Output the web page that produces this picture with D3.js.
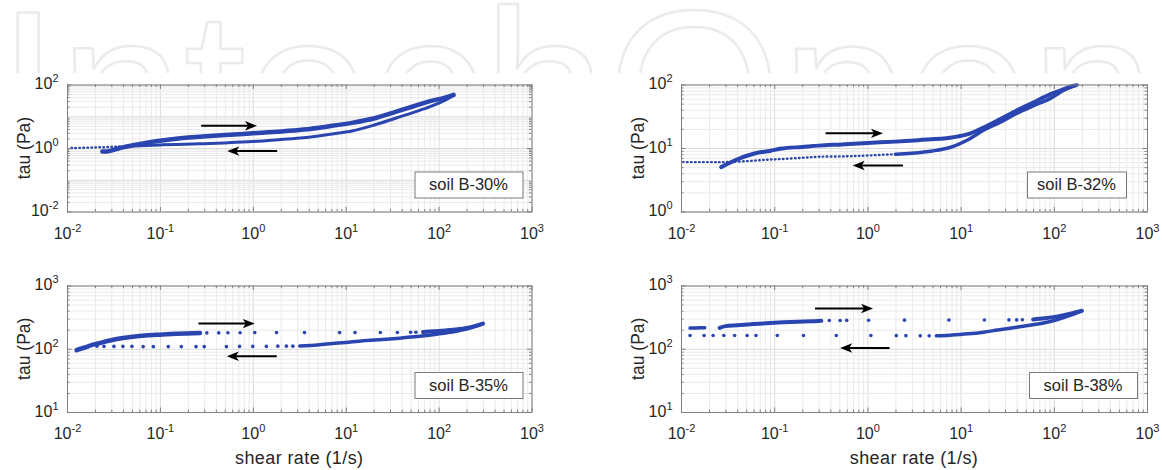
<!DOCTYPE html>
<html>
<head>
<meta charset="utf-8">
<script src="https://cdn.jsdelivr.net/npm/d3@7"></script>
<style>
  body { margin: 0; background: #fff; }
  svg { display: block; font-family: "Liberation Sans", Arial, Helvetica, sans-serif; }
</style>
</head>
<body>
<div id="chart"></div>
<script>
// Tick exponents (labels are 10^e)
const xTickExps = [-2, -1, 0, 1, 2, 3];
const yTickExpsB30 = [-2, 0, 2];
const yTickExpsB32 = [0, 1, 2];
const yTickExpsB35 = [1, 2, 3];
const yTickExpsB38 = [1, 2, 3];
const legendLabels = ['soil B-30%', 'soil B-32%', 'soil B-35%', 'soil B-38%'];

// soil B-30% : shear rate (1/s) / tau (Pa)
const b30UpRate = [0.024, 0.027, 0.032, 0.04, 0.05, 0.07, 0.1, 0.15, 0.27, 0.5, 1, 2, 3.5, 6.8, 12, 20, 35, 55, 81, 115, 145];
const b30UpTau = [0.78, 0.78, 0.88, 1.05, 1.2, 1.45, 1.7, 1.95, 2.25, 2.55, 2.9, 3.3, 3.8, 4.9, 6.3, 8.5, 14, 21, 30, 38, 47];
const b30DownRate = [145, 115, 81, 55, 35, 20, 12, 6.8, 3.5, 2, 1, 0.5, 0.27, 0.15, 0.1, 0.07, 0.05];
const b30DownTau = [45, 31, 20, 13.5, 8.8, 5.2, 3.5, 2.7, 2.1, 1.85, 1.6, 1.45, 1.35, 1.3, 1.25, 1.2, 1.15];
const b30TailRate = [0.05, 0.04, 0.032, 0.027, 0.022, 0.018, 0.015, 0.012, 0.0105];
const b30TailTau = [1.15, 1.12, 1.1, 1.07, 1.05, 1.03, 1.02, 1.0, 1.0];

// soil B-32%
const b32UpRate = [0.027, 0.033, 0.044, 0.055, 0.066, 0.09, 0.12, 0.2, 0.3, 0.54, 1, 2, 3.5, 7.7, 12, 17.6, 26, 40, 60, 91, 130, 176];
const b32UpTau = [5.0, 5.8, 7.0, 7.8, 8.4, 9.0, 9.8, 10.4, 10.9, 11.4, 12, 12.6, 13.3, 14.5, 16.5, 21, 28, 39, 52, 70, 85, 100];
const b32DownRate = [176, 130, 91, 60, 40, 26, 17.6, 12, 7.7, 5, 3, 2];
const b32DownTau = [98, 82, 60, 46, 35, 25, 19, 13.5, 10.2, 9.0, 8.3, 8.0];
const b32TailRate = [2, 1, 0.6, 0.31, 0.2, 0.12, 0.08, 0.05, 0.03, 0.02, 0.0105];
const b32TailTau = [8.0, 7.6, 7.4, 7.3, 7.0, 6.7, 6.5, 6.2, 6.0, 6.0, 6.0];

// soil B-35%
const b35UpRate = [0.0127, 0.014, 0.016, 0.018, 0.022, 0.029, 0.04, 0.051, 0.07, 0.1, 0.15, 0.27];
const b35UpTau = [95, 100, 106, 113, 122, 135, 148, 155, 162, 167, 172, 177];
const b35UpDotRate = [0.32, 0.43, 0.54, 0.73, 1.05, 1.8, 3.6, 8.6, 12.6, 23.6, 36, 50, 57];
const b35UpDotTau = [178, 178, 179, 179, 180, 180, 180, 180, 180, 181, 181, 182, 182];
const b35UpEndRate = [68, 90, 120, 160, 200, 250, 300];
const b35UpEndTau = [184, 189, 195, 203, 213, 230, 250];
const b35DownRate = [300, 250, 200, 150, 102, 70, 38, 25, 15.5, 10, 7.2, 5, 3.2];
const b35DownTau = [250, 226, 205, 188, 172, 160, 147, 140, 134, 126, 121, 115, 111];
const b35DownDotRate = [0.021, 0.025, 0.032, 0.040, 0.050, 0.066, 0.085, 0.123, 0.17, 0.245, 0.30, 0.52, 0.72, 1.0, 1.4, 1.86, 2.3, 2.7];
const b35DownDotTau = [110, 109, 109, 109, 109, 108, 108, 108, 108, 108, 108, 108, 109, 109, 109, 110, 110, 110];

// soil B-38%
const b38UpStartRate = [0.0125, 0.014, 0.016, 0.018];
const b38UpStartTau = [212, 213, 214, 214];
const b38UpRate = [0.026, 0.03, 0.04, 0.06, 0.09, 0.15, 0.25, 0.32];
const b38UpTau = [214, 228, 236, 246, 255, 265, 272, 276];
const b38UpDotRate = [0.39, 0.51, 0.6, 1.03, 2.5, 7.5, 18, 33, 40, 46];
const b38UpDotTau = [279, 280, 281, 282, 283, 284, 285, 286, 286, 287];
const b38UpEndRate = [60, 80, 110, 150, 200];
const b38UpEndTau = [290, 303, 325, 358, 400];
const b38DownRate = [200, 150, 110, 80, 60, 40, 25, 17.6, 12, 7.7, 5.5];
const b38DownTau = [395, 338, 290, 258, 240, 219, 198, 183, 172, 164, 160];
const b38DownDotRate = [0.0125, 0.0177, 0.0221, 0.0288, 0.0376, 0.0512, 0.0638, 0.108, 0.206, 0.464, 1.09, 2.04, 2.59, 3.69, 4.6];
const b38DownDotTau = [162, 162, 162, 162, 162, 162, 162, 162, 162, 162, 162, 161, 161, 160, 160];

// Sweep-direction arrows: [rate from, rate to, tau]
const arrowsB30 = [[0.278, 1.11, 5.0], [1.83, 0.53, 0.80]];
const arrowsB32 = [[0.356, 1.47, 17], [2.41, 0.695, 5.3]];
const arrowsB35 = [[0.26, 1.05, 250], [1.81, 0.525, 76]];
const arrowsB38 = [[0.274, 1.15, 434], [1.73, 0.51, 103]];

// Layout
const blue = '#2a45b0';
const axisColor = '#808080';
const textColor = '#262626';
const majorGrid = '#dadada';
const minorGrid = '#eaeaea';

const panels = [
    { name: legendLabels[0], box: [67, 531.5, 84.5, 211.5], yTicks: yTickExpsB30, arrows: arrowsB30,
      legend: { right: 9, width: 108 }, xLabel: false,
      series: [
          { rate: b30UpRate, tau: b30UpTau, kind: 'band', w: 4.5 },
          { rate: b30DownRate, tau: b30DownTau, kind: 'band', w: 3 },
          { rate: b30TailRate, tau: b30TailTau, kind: 'dash' }
      ] },
    { name: legendLabels[1], box: [681, 1147, 84.5, 211.5], yTicks: yTickExpsB32, arrows: arrowsB32,
      legend: { right: 21, width: 99 }, xLabel: false,
      series: [
          { rate: b32UpRate, tau: b32UpTau, kind: 'band', w: 4 },
          { rate: b32DownRate, tau: b32DownTau, kind: 'band', w: 3.5 },
          { rate: b32TailRate, tau: b32TailTau, kind: 'dash' }
      ] },
    { name: legendLabels[2], box: [67, 531.5, 285.5, 412], yTicks: yTickExpsB35, arrows: arrowsB35,
      legend: { right: 9, width: 108 }, xLabel: true,
      series: [
          { rate: b35UpRate, tau: b35UpTau, kind: 'band', w: 4.5 },
          { rate: b35UpDotRate, tau: b35UpDotTau, kind: 'dots' },
          { rate: b35UpEndRate, tau: b35UpEndTau, kind: 'band', w: 4 },
          { rate: b35DownRate, tau: b35DownTau, kind: 'band', w: 3.5 },
          { rate: b35DownDotRate, tau: b35DownDotTau, kind: 'dots' }
      ] },
    { name: legendLabels[3], box: [681, 1147, 285.5, 412], yTicks: yTickExpsB38, arrows: arrowsB38,
      legend: { right: 10, width: 108 }, xLabel: true,
      series: [
          { rate: b38UpStartRate, tau: b38UpStartTau, kind: 'band', w: 3.5 },
          { rate: b38UpRate, tau: b38UpTau, kind: 'band', w: 4 },
          { rate: b38UpDotRate, tau: b38UpDotTau, kind: 'dots' },
          { rate: b38UpEndRate, tau: b38UpEndTau, kind: 'band', w: 4 },
          { rate: b38DownRate, tau: b38DownTau, kind: 'band', w: 3.5 },
          { rate: b38DownDotRate, tau: b38DownDotTau, kind: 'dots' }
      ] }
];

const svg = d3.select('#chart')
    .append('svg')
    .attr('width', 1162)
    .attr('height', 470);

// Faint publisher watermark along the top edge (cut by the figure)
svg.append('clipPath').attr('id', 'wm-clip')
    .append('rect').attr('x', 0).attr('y', 0).attr('width', 1162).attr('height', 73);
svg.append('g').attr('clip-path', 'url(#wm-clip)')
    .append('text')
    .attr('x', -3).attr('y', 167)
    .attr('font-size', 224)
    .attr('fill', '#fff')
    .attr('stroke', '#ebebeb')
    .attr('stroke-width', 2.5)
    .attr('stroke-linejoin', 'round')
    .text('IntechOpen');

// decades and 2..9 minor values of a log scale
function decades(scale) {
    const [lo, hi] = scale.domain().map(v => Math.round(Math.log10(v)));
    return d3.range(lo, hi + 1).map(e => 10 ** e);
}
function minors(scale) {
    const [lo, hi] = scale.domain().map(v => Math.round(Math.log10(v)));
    const out = [];
    for (let e = lo; e < hi; e++) for (let m = 2; m <= 9; m++) out.push(m * 10 ** e);
    return out;
}

function supLabel() {
    const t = d3.select(this);
    const exp = t.text();
    t.text(null);
    t.append('tspan').text('10');
    t.append('tspan').attr('dy', -7).attr('font-size', 11).text(exp);
}

function plain(sel) {
    sel.attr('font-family', null).attr('font-size', null);
    sel.select('.domain').remove();
    sel.selectAll('.tick line').attr('stroke', axisColor);
}

const expFormat = d => String(Math.round(Math.log10(d)));

panels.forEach((p, i) => {
    const [left, right, top, bottom] = p.box;
    const w = right - left, h = bottom - top;

    const x = d3.scaleLog()
        .domain([10 ** xTickExps[0], 10 ** xTickExps[xTickExps.length - 1]])
        .range([left, right]);
    const yExt = d3.extent(p.yTicks);
    const y = d3.scaleLog()
        .domain([10 ** yExt[0], 10 ** yExt[1]])
        .range([bottom, top]);

    const g = svg.append('g').attr('class', 'panel');

    g.append('rect')
        .attr('x', left).attr('y', top)
        .attr('width', w).attr('height', h)
        .attr('fill', '#fff');

    // Grid lines
    [[minors(x), minorGrid], [decades(x), majorGrid]].forEach(([vals, col]) => {
        g.append('g')
            .attr('transform', `translate(0,${bottom})`)
            .call(d3.axisBottom(x).tickValues(vals).tickSize(-h).tickFormat(''))
            .call(s => s.select('.domain').remove())
            .selectAll('line').attr('stroke', col);
    });
    [[minors(y), minorGrid], [decades(y), majorGrid]].forEach(([vals, col]) => {
        g.append('g')
            .attr('transform', `translate(${left},0)`)
            .call(d3.axisLeft(y).tickValues(vals).tickSize(-w).tickFormat(''))
            .call(s => s.select('.domain').remove())
            .selectAll('line').attr('stroke', col);
    });

    // Data
    g.append('clipPath').attr('id', 'clip' + i)
        .append('rect')
        .attr('x', left).attr('y', top - 1)
        .attr('width', w).attr('height', h + 1);
    const plot = g.append('g').attr('clip-path', `url(#clip${i})`);

    const line = d3.line()
        .x(d => x(d[0]))
        .y(d => y(d[1]))
        .curve(d3.curveCatmullRom.alpha(0.5));

    p.series.forEach(s => {
        const pts = d3.zip(s.rate, s.tau);
        if (s.kind === 'dots') {
            plot.selectAll(null)
                .data(pts)
                .join('circle')
                .attr('cx', d => x(d[0]))
                .attr('cy', d => y(d[1]))
                .attr('r', 1.8)
                .attr('fill', blue);
        } else {
            plot.append('path')
                .datum(pts)
                .attr('d', line)
                .attr('fill', 'none')
                .attr('stroke', blue)
                .attr('stroke-width', s.kind === 'dash' ? 2.4 : s.w)
                .attr('stroke-linecap', 'round')
                .attr('stroke-linejoin', 'round')
                .attr('stroke-dasharray', s.kind === 'dash' ? '0.6 3.4' : null);
        }
    });

    // Box
    g.append('rect')
        .attr('x', left + 0.5).attr('y', top + 0.5)
        .attr('width', w).attr('height', h)
        .attr('fill', 'none')
        .attr('stroke', axisColor)
        .attr('stroke-width', 1);

    // Ticks on all four sides, pointing inward
    const xMajor = xTickExps.map(e => 10 ** e);
    const yMajor = p.yTicks.map(e => 10 ** e);

    g.append('g').attr('transform', `translate(0,${bottom})`)
        .call(d3.axisBottom(x).tickValues(minors(x)).tickSizeInner(-2.5).tickSizeOuter(0).tickFormat('')).call(plain);
    g.append('g').attr('transform', `translate(0,${top})`)
        .call(d3.axisTop(x).tickValues(minors(x)).tickSizeInner(-2.5).tickSizeOuter(0).tickFormat('')).call(plain);
    g.append('g').attr('transform', `translate(${left},0)`)
        .call(d3.axisLeft(y).tickValues(minors(y)).tickSizeInner(-2.5).tickSizeOuter(0).tickFormat('')).call(plain);
    g.append('g').attr('transform', `translate(${right},0)`)
        .call(d3.axisRight(y).tickValues(minors(y)).tickSizeInner(-2.5).tickSizeOuter(0).tickFormat('')).call(plain);

    g.append('g').attr('transform', `translate(0,${top})`)
        .call(d3.axisTop(x).tickValues(xMajor).tickSizeInner(-4.5).tickSizeOuter(0).tickFormat('')).call(plain);
    g.append('g').attr('transform', `translate(${right},0)`)
        .call(d3.axisRight(y).tickValues(yMajor).tickSizeInner(-4.5).tickSizeOuter(0).tickFormat('')).call(plain);

    const xb = g.append('g').attr('transform', `translate(0,${bottom})`)
        .call(d3.axisBottom(x).tickValues(xMajor).tickSizeInner(-4.5).tickSizeOuter(0).tickFormat(expFormat))
        .call(plain);
    xb.selectAll('.tick text')
        .attr('y', 27)
        .attr('dy', null)
        .attr('fill', textColor)
        .attr('font-size', 16)
        .each(supLabel);

    const yl = g.append('g').attr('transform', `translate(${left},0)`)
        .call(d3.axisLeft(y).tickValues(yMajor).tickSizeInner(-4.5).tickSizeOuter(0).tickPadding(8.5).tickFormat(expFormat))
        .call(plain);
    yl.selectAll('.tick text')
        .attr('dy', '0.28em')
        .attr('fill', textColor)
        .attr('font-size', 16)
        .each(supLabel);

    // Axis titles
    g.append('text')
        .attr('transform', `translate(${left - 42},${(top + bottom) / 2}) rotate(-90)`)
        .attr('dy', '0.26em')
        .attr('text-anchor', 'middle')
        .attr('font-size', 17.5)
        .attr('fill', textColor)
        .text('tau (Pa)');

    if (p.xLabel) {
        g.append('text')
            .attr('x', (left + right) / 2)
            .attr('y', 464)
            .attr('text-anchor', 'middle')
            .attr('font-size', 18)
            .attr('letter-spacing', 0.4)
            .attr('fill', textColor)
            .text('shear rate (1/s)');
    }

    // Legend box
    const lw = p.legend.width, lh = 26;
    const lx = right - p.legend.right - lw;
    const ly = bottom - 14 - lh;
    g.append('rect')
        .attr('x', lx + 0.5).attr('y', ly + 0.5)
        .attr('width', lw).attr('height', lh)
        .attr('fill', '#fff')
        .attr('stroke', '#7a7a7a');
    g.append('text')
        .attr('x', lx + lw / 2)
        .attr('y', ly + lh / 2)
        .attr('dy', '0.36em')
        .attr('text-anchor', 'middle')
        .attr('font-size', 16.5)
        .attr('fill', textColor)
        .text(p.name);

    // Direction arrows
    p.arrows.forEach(a => {
        const x1 = x(a[0]), x2 = x(a[1]), yy = y(a[2]);
        const dir = Math.sign(x2 - x1);
        g.append('line')
            .attr('x1', x1).attr('y1', yy)
            .attr('x2', x2 - dir * 6).attr('y2', yy)
            .attr('stroke', '#000')
            .attr('stroke-width', 2);
        g.append('path')
            .attr('d', `M${x2},${yy}L${x2 - dir * 12},${yy - 4.7}L${x2 - dir * 9},${yy}L${x2 - dir * 12},${yy + 4.7}Z`)
            .attr('fill', '#000');
    });
});
</script>
</body>
</html>
